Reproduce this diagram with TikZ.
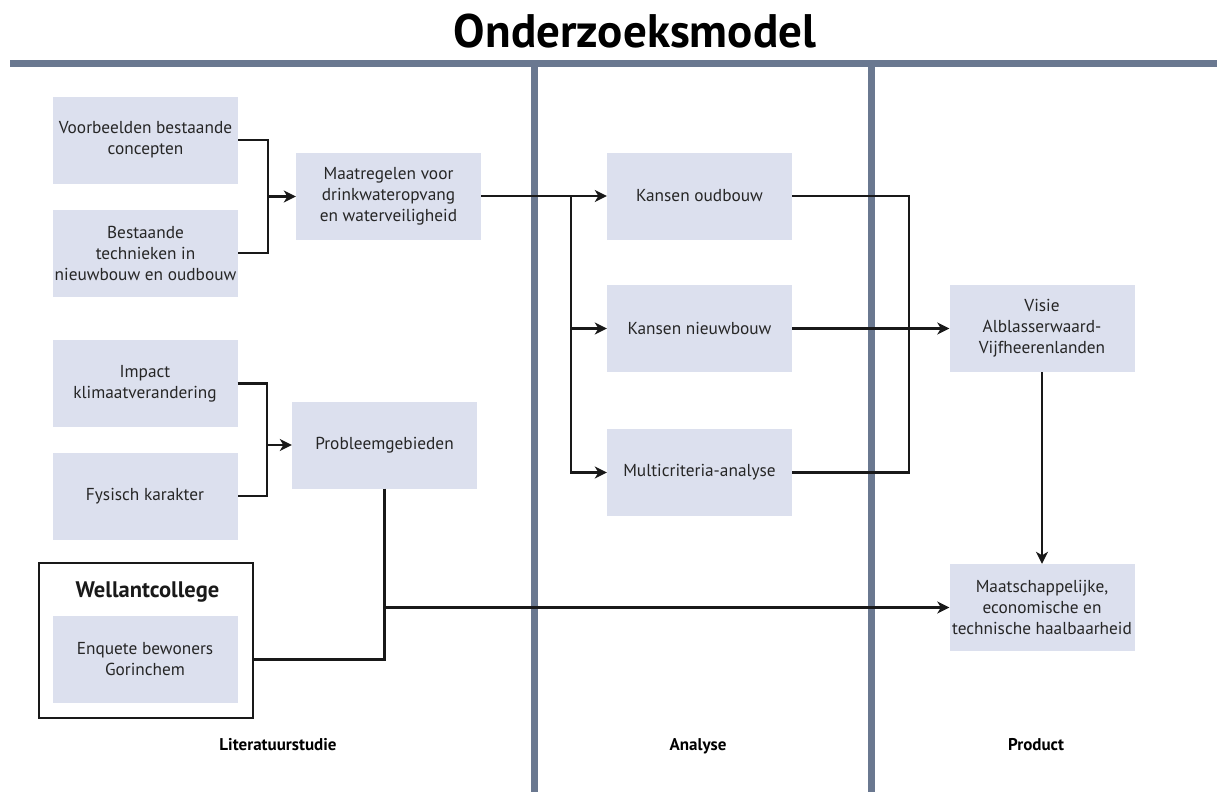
\documentclass[tikz,border=0pt]{standalone}
\usepackage{fontspec}
\setmainfont{PT Sans}
\usetikzlibrary{arrows.meta}
\definecolor{barc}{HTML}{6A7890}
\definecolor{boxc}{HTML}{DCE0EE}
\tikzset{
  box/.style={fill=boxc, minimum width=185pt, minimum height=87pt, inner sep=0pt,
    align=center, font=\fontsize{17.3}{21}\selectfont, text=black!85},
  conn/.style={line width=2.2pt, black!90, line join=miter},
  arr/.style={conn, -{Stealth[length=12pt,width=12pt,inset=3.5pt]}},
  phase/.style={font=\bfseries\fontsize{17}{20}\selectfont, anchor=base},
}
\begin{document}
\begin{tikzpicture}[x=1pt,y=-1pt]
\useasboundingbox (0,0) rectangle (1217,792);
% title and bars
\node[font=\bfseries\fontsize{47}{52}\selectfont, anchor=base] (title) at (635,48) {Onderzoeksmodel};
\fill[barc] (10,60) rectangle (1217,67);
\fill[barc] (530.5,67) rectangle (537.5,792);
\fill[barc] (867.5,67) rectangle (874.5,792);
% boxes
\node[box] (v) at (145.5,140) {Voorbeelden bestaande\\concepten};
\node[box] (b) at (145.5,253) {Bestaande\\technieken in\\nieuwbouw en oudbouw};
\node[box] (m) at (388.5,196.5) {Maatregelen voor\\drinkwateropvang\\en waterveiligheid};
\node[box] (i) at (145,383.5) {Impact\\klimaatverandering};
\node[box] (f) at (145,496) {Fysisch karakter};
\node[box] (p) at (384.5,445) {Probleemgebieden};
\draw[line width=2.6pt, black!90] (39,563) rectangle (253,718);
\coordinate (wE) at (253,659.5);
\node[font=\bfseries\fontsize{22.5}{26}\selectfont, text=black!90, anchor=base] (wt) at (147.5,597) {Wellantcollege};
\node[box] (e) at (145,659.5) {Enquete bewoners\\Gorinchem};
\node[box] (ko) at (699.5,196) {Kansen oudbouw};
\node[box] (kn) at (699.5,328.5) {Kansen nieuwbouw};
\node[box] (mc) at (699.5,472.5) {Multicriteria-analyse};
\node[box] (vi) at (1042,328.5) {Visie\\Alblasserwaard-\\Vijfheerenlanden};
\node[box] (ma) at (1042,607.5) {Maatschappelijke,\\economische en\\technische haalbaarheid};
% phase labels
\node[phase] (l1) at (278,750) {Literatuurstudie};
\node[phase] (l2) at (698,750) {Analyse};
\node[phase] (l3) at (1036,750) {Product};
% connectors
\coordinate (j1) at (268,196.5);
\draw[conn] (v.east) -| (j1) |- (b.east);
\draw[arr] (j1) -- (m.west);
\coordinate (j2) at (267,445);
\draw[conn] (i.east) -| (j2) |- (f.east);
\draw[arr] (j2) -- (p.west);
\coordinate (s) at (571,196);
\draw[arr] (m.east |- s) -- (ko.west);
\draw[arr] (s) |- (kn.west);
\draw[arr] (s) |- (mc.west);
\coordinate (r) at (909,196);
\draw[conn] (ko.east) -- (r) |- (mc.east);
\draw[arr] (kn.east) -- (vi.west);
\draw[arr] (vi.south) -- (ma.north);
\draw[conn] (p.south) -- (p.south |- wE) -- (wE);
\coordinate (q) at (p.south |- ma.west);
\draw[arr] (q) -- (ma.west);
\end{tikzpicture}
\end{document}
